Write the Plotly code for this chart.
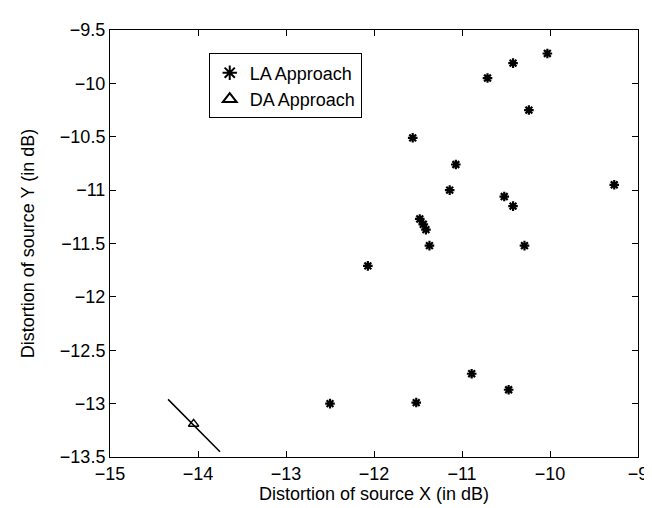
import plotly.graph_objects as go

# LA approach points (distortion of source X, source Y) in dB
la_x = [-10.03, -10.42, -10.71, -10.24, -11.56, -11.07, -11.14, -10.52, -10.42,
        -9.27, -11.48, -11.44, -11.41, -11.37, -10.29, -12.07, -10.89, -10.47,
        -11.52, -12.50]
la_y = [-9.72, -9.81, -9.95, -10.25, -10.51, -10.76, -11.00, -11.06, -11.15,
        -10.95, -11.27, -11.32, -11.37, -11.52, -11.52, -11.71, -12.72, -12.87,
        -12.99, -13.00]

# DA approach point
da_x = [-14.05]
da_y = [-13.19]

# line through the DA point
da_line_x = [-14.34, -13.75]
da_line_y = [-12.96, -13.45]

x_ticks = [-15, -14, -13, -12, -11, -10, -9]
y_ticks = [-13.5, -13, -12.5, -12, -11.5, -11, -10.5, -10, -9.5]

font = dict(family="Liberation Sans, Arial, sans-serif", size=18, color="black")

fig = go.Figure()
fig.add_trace(go.Scatter(x=da_line_x, y=da_line_y, mode="lines",
                         line=dict(color="black", width=1.5), showlegend=False,
                         hoverinfo="skip"))
fig.add_trace(go.Scatter(x=la_x, y=la_y, mode="markers", name="LA Approach",
                         marker=dict(symbol="asterisk-open", size=8, color="black",
                                     line=dict(color="black", width=2.2))))
fig.add_trace(go.Scatter(x=da_x, y=da_y, mode="markers", name="DA Approach",
                         marker=dict(symbol="triangle-up-open", size=9, color="black",
                                     line=dict(color="black", width=1.5))))

axis_common = dict(showgrid=False, zeroline=False, showline=True, linecolor="black",
                   linewidth=1, mirror="ticks", ticks="inside", ticklen=6,
                   tickcolor="black", tickfont=font)

fig.update_xaxes(range=[-15, -9], tickvals=x_ticks,
                 ticktext=[f"\u2212{abs(v):g}" for v in x_ticks],
                 title=dict(text="Distortion of source X (in dB)", font=font, standoff=4),
                 **axis_common)
fig.update_yaxes(range=[-13.5, -9.5], tickvals=y_ticks,
                 ticktext=[f"\u2212{abs(v):g}" for v in y_ticks],
                 title=dict(text="Distortion of source Y (in dB)", font=font, standoff=20),
                 **axis_common)

fig.update_layout(
    width=652, height=508,
    margin=dict(l=102, r=16, t=12, b=59),
    paper_bgcolor="white", plot_bgcolor="white",
    font=font,
    legend=dict(x=0.187, y=0.945, xanchor="left", yanchor="top",
                bordercolor="black", borderwidth=1, bgcolor="white",
                font=font, itemsizing="constant", tracegroupgap=0),
)

fig.write_html("out.html")
